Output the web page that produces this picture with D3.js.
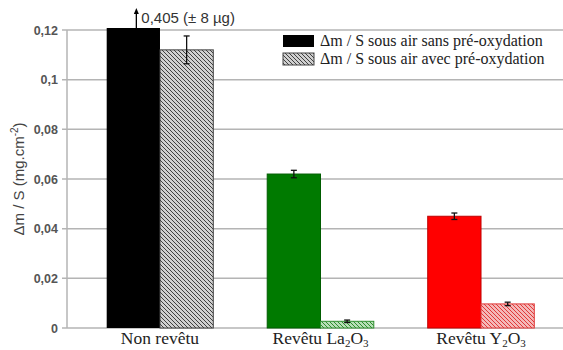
<!DOCTYPE html>
<html><head><meta charset="utf-8">
<script src="https://cdn.jsdelivr.net/npm/d3@7"></script>
<style>body{margin:0;background:#fff}svg{display:block}</style>
</head><body>
<svg id="c" width="563" height="350"></svg>
<script>
const categories = ["Non revêtu", "Revêtu La2O3", "Revêtu Y2O3"];
const series = ["Δm / S sous air sans pré-oxydation", "Δm / S sous air avec pré-oxydation"];
const sansValues = [0.405, 0.062, 0.045];
const sansErrors = [0.008, 0.0015, 0.0013];
const avecValues = [0.112, 0.0027, 0.0097];
const avecErrors = [0.0056, 0.0005, 0.0007];
const yTicks = [0, 0.02, 0.04, 0.06, 0.08, 0.1, 0.12];
const solidColors = ["#000000", "#007a00", "#ff0000"];
const hatchBg = ["#d0d0d0", "#b8deb8", "#f4b8b8"];
const hatchFg = ["#404040", "#2f8f2f", "#e03a3a"];
const annotation = "0,405 (± 8 µg)";

const svg = d3.select("#c");
const y = d3.scaleLinear().domain([0, 0.12]).range([328, 30]).clamp(true);
const x0 = d3.scaleBand().domain(categories).range([106.7, 534.3]).paddingInner(0.336).paddingOuter(0);
const x1 = d3.scaleBand().domain(series).range([0, x0.bandwidth()]);

const defs = svg.append("defs");
hatchBg.forEach((bg, i) => {
  const p = defs.append("pattern").attr("id", "h" + i).attr("patternUnits", "userSpaceOnUse")
    .attr("width", 4).attr("height", 4);
  p.append("rect").attr("width", 4).attr("height", 4).attr("fill", bg);
  p.append("path").attr("d", "M-1,-1 L5,5 M-1,3 L1,5 M3,-1 L5,1").attr("stroke", hatchFg[i]).attr("stroke-width", 1);
});

// gridlines
svg.append("g").selectAll("line").data(yTicks).join("line")
  .attr("x1", 62).attr("x2", 563).attr("y1", d => y(d)).attr("y2", d => y(d))
  .attr("stroke", "#b4b4b4").attr("stroke-width", 1.5);
svg.append("line").attr("x1", 67).attr("x2", 67).attr("y1", y(0.12)).attr("y2", y(0))
  .attr("stroke", "#b4b4b4").attr("stroke-width", 1.5);

// tick labels
svg.append("g").selectAll("text").data(yTicks).join("text")
  .attr("x", 58).attr("y", d => y(d) + 4.5).attr("text-anchor", "end")
  .attr("font-family", "Liberation Sans, Arial, sans-serif").attr("font-size", 12.5).attr("font-weight", "bold")
  .attr("fill", "#555").text(d => d === 0 ? "0" : String(d).replace(".", ","));

// y title
svg.append("text").attr("transform", `translate(24,${y(0.06)}) rotate(-90)`)
  .attr("text-anchor", "middle").attr("font-family", "Liberation Sans, Arial, sans-serif")
  .attr("font-size", 15).attr("fill", "#444")
  .html('Δm / S (mg.cm<tspan dy="-6" font-size="10">-2</tspan><tspan dy="6">)</tspan>');

const g = svg.append("g");
categories.forEach((c, i) => {
  const xs = x0(c) + x1(series[0]);
  const xa = x0(c) + x1(series[1]);
  const w = x1.bandwidth();
  const topS = sansValues[i] > 0.12 ? y(0.12) - 2 : y(sansValues[i]);
  g.append("rect").attr("x", xs).attr("y", topS).attr("width", w).attr("height", y(0) - topS)
    .attr("fill", solidColors[i]).attr("stroke", i === 0 ? "none" : d3.color(solidColors[i]).darker(0.8)).attr("stroke-width", 1);
  g.append("rect").attr("x", xa).attr("y", y(avecValues[i])).attr("width", w).attr("height", y(0) - y(avecValues[i]))
    .attr("fill", `url(#h${i})`).attr("stroke", hatchFg[i]).attr("stroke-width", 1);
  // error bars
  const eb = (cx, v, e) => {
    if (v > 0.12) return;
    const gg = g.append("g").attr("stroke", "#111").attr("stroke-width", 1.3);
    gg.append("line").attr("x1", cx).attr("x2", cx).attr("y1", y(v + e)).attr("y2", y(v - e));
    gg.append("line").attr("x1", cx - 3).attr("x2", cx + 3).attr("y1", y(v + e)).attr("y2", y(v + e));
    gg.append("line").attr("x1", cx - 3).attr("x2", cx + 3).attr("y1", y(v - e)).attr("y2", y(v - e));
  };
  eb(xs + w / 2, sansValues[i], sansErrors[i]);
  eb(xa + w / 2, avecValues[i], avecErrors[i]);
  if (sansValues[i] > 0.12) {
    const cx = xs + w / 2 + 3;
    g.append("line").attr("x1", cx).attr("x2", cx).attr("y1", topS).attr("y2", 12).attr("stroke", "#000").attr("stroke-width", 1.3);
    g.append("path").attr("d", `M${cx - 2.5},14 L${cx},8 L${cx + 2.5},14 Z`).attr("fill", "#000");
    g.append("text").attr("x", cx + 5).attr("y", 23).attr("font-family", "Liberation Sans, Arial, sans-serif")
      .attr("font-size", 15).attr("fill", "#333").text(annotation);
  }
});

// category labels
const serif = "Liberation Serif, Times New Roman, serif";
const catLabel = (sel, c) => {
  const m = c.match(/^(.*?)([A-Z][a-z]?)(\d)(O)(\d)$/);
  if (!m) { sel.text(c); return; }
  sel.append("tspan").text(m[1] + m[2]);
  sel.append("tspan").attr("dy", 3).attr("font-size", 11).text(m[3]);
  sel.append("tspan").attr("dy", -3).text(m[4]);
  sel.append("tspan").attr("dy", 3).attr("font-size", 11).text(m[5]);
};
categories.forEach(c => {
  const t = svg.append("text").attr("x", x0(c) + x0.bandwidth() / 2).attr("y", 344)
    .attr("text-anchor", "middle").attr("font-family", serif).attr("font-size", 17.5).attr("fill", "#222");
  catLabel(t, c);
});

// legend
const lg = svg.append("g");
lg.append("rect").attr("x", 272).attr("y", y(0.12) + 1).attr("width", 291).attr("height", y(0.1) - y(0.12) - 2).attr("fill", "#fff");
series.forEach((s, i) => {
  const yy = 35 + i * 18;
  lg.append("rect").attr("x", 283).attr("y", yy).attr("width", 31).attr("height", 12)
    .attr("fill", i === 0 ? "#000" : "url(#h0)").attr("stroke", i === 0 ? "none" : "#444");
  lg.append("text").attr("x", 320).attr("y", yy + 11).attr("font-family", serif).attr("font-size", 16)
    .attr("fill", "#222").text(s);
});
</script>
</body></html>
